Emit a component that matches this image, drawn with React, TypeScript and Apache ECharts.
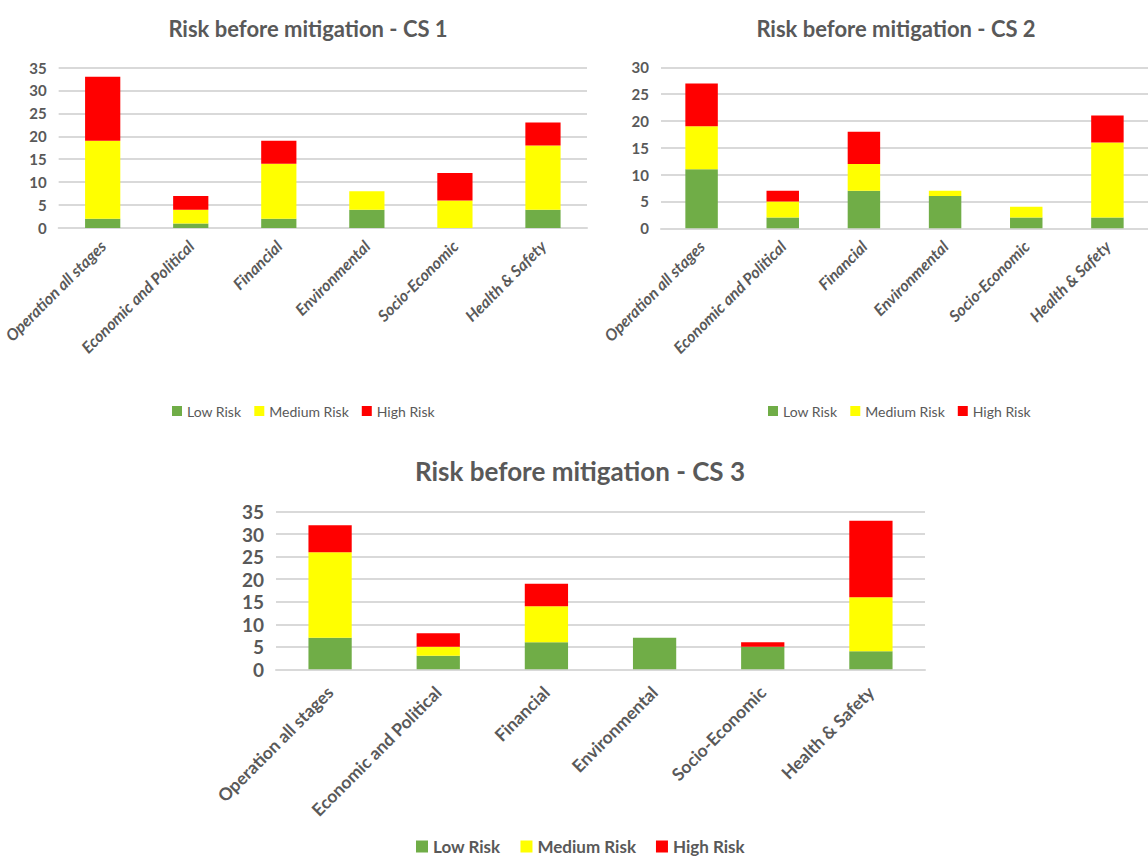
import React, { useEffect, useRef } from "react";
import * as echarts from "echarts";

const categories = [
  "Operation all stages",
  "Economic and Political",
  "Financial",
  "Environmental",
  "Socio-Economic",
  "Health & Safety",
];
const seriesNames = ["Low Risk", "Medium Risk", "High Risk"];
const colors = ["#70ad47", "#ffff00", "#ff0000"];

const cs1Low = [2, 1, 2, 4, 0, 4];
const cs1Medium = [17, 3, 12, 4, 6, 14];
const cs1High = [14, 3, 5, 0, 6, 5];

const cs2Low = [11, 2, 7, 6, 2, 2];
const cs2Medium = [8, 3, 5, 1, 2, 14];
const cs2High = [8, 2, 6, 0, 0, 5];

const cs3Low = [7, 3, 6, 7, 5, 4];
const cs3Medium = [19, 2, 8, 0, 0, 12];
const cs3High = [6, 3, 5, 0, 1, 17];

const titles = [
  "Risk before mitigation - CS 1",
  "Risk before mitigation - CS 2",
  "Risk before mitigation - CS 3",
];
const yMax = [35, 30, 35];

const FONT = "Lato, 'Open Sans', sans-serif";
const GREY = "#595959";

export default function App() {
  const ref = useRef<HTMLDivElement>(null);
  useEffect(() => {
    if (!ref.current) return;
    const chart = echarts.init(ref.current, undefined, { renderer: "svg" });
    const data = [
      [cs1Low, cs1Medium, cs1High],
      [cs2Low, cs2Medium, cs2High],
      [cs3Low, cs3Medium, cs3High],
    ];
    const grids = [
      { left: 58, top: 67.5, width: 529, height: 160.5 },
      { left: 661, top: 67.3, width: 501, height: 161 },
      { left: 276, top: 511.7, width: 649, height: 157.6 },
    ];
    const big = [false, false, true];
    const series: any[] = [];
    data.forEach((set, gi) => {
      set.forEach((vals, si) => {
        series.push({
          type: "bar",
          name: seriesNames[si],
          stack: "s" + gi,
          xAxisIndex: gi,
          yAxisIndex: gi,
          barWidth: "40%",
          data: vals,
          itemStyle: { color: colors[si] },
        });
      });
    });
    chart.setOption({
      animation: false,
      textStyle: { fontFamily: FONT },
      title: [
        { text: titles[0], left: 303, top: 12, textAlign: "center" },
        { text: titles[1], left: 891, top: 12, textAlign: "center" },
        { text: titles[2], left: 575, top: 453, textAlign: "center" },
      ].map((t, i) => ({
        ...t,
        textStyle: {
          fontFamily: FONT,
          fontWeight: "bold",
          color: GREY,
          fontSize: i === 2 ? 26 : 22,
        },
      })),
      legend: [
        { left: 172, top: 404 },
        { left: 768, top: 404 },
        { left: 416, top: 838 },
      ].map((l, i) => ({
        ...l,
        data: seriesNames,
        icon: "rect",
        padding: 0,
        itemWidth: i === 2 ? 12 : 10,
        itemHeight: i === 2 ? 12 : 10,
        itemGap: i === 2 ? 20 : 13,
        textStyle: {
          fontFamily: FONT,
          color: GREY,
          fontSize: i === 2 ? 17 : 14,
          fontWeight: i === 2 ? "bold" : "normal",
        },
      })),
      grid: grids,
      xAxis: grids.map((_, i) => ({
        type: "category",
        gridIndex: i,
        data: categories,
        axisLine: { lineStyle: { color: "#d9d9d9", width: 2 } },
        axisTick: { show: false },
        axisLabel: {
          interval: 0,
          rotate: 45,
          margin: big[i] ? 20 : 15,
          color: GREY,
          fontFamily: FONT,
          fontSize: big[i] ? 17.5 : 16,
          fontStyle: big[i] ? "normal" : "italic",
          fontWeight: "bold",
        },
      })),
      yAxis: grids.map((_, i) => ({
        type: "value",
        gridIndex: i,
        min: 0,
        max: yMax[i],
        interval: 5,
        axisLine: { show: false },
        axisTick: { show: false },
        splitLine: { lineStyle: { color: "#d9d9d9", width: 2 } },
        axisLabel: {
          color: GREY,
          fontFamily: FONT,
          fontSize: big[i] ? 19 : 15,
          fontWeight: "bold",
          margin: 12,
        },
      })),
      series,
    });
    return () => chart.dispose();
  }, []);
  return (
    <div
      ref={ref}
      style={{ position: "fixed", left: 0, top: 0, width: 1148, height: 858, background: "#fff" }}
    />
  );
}
